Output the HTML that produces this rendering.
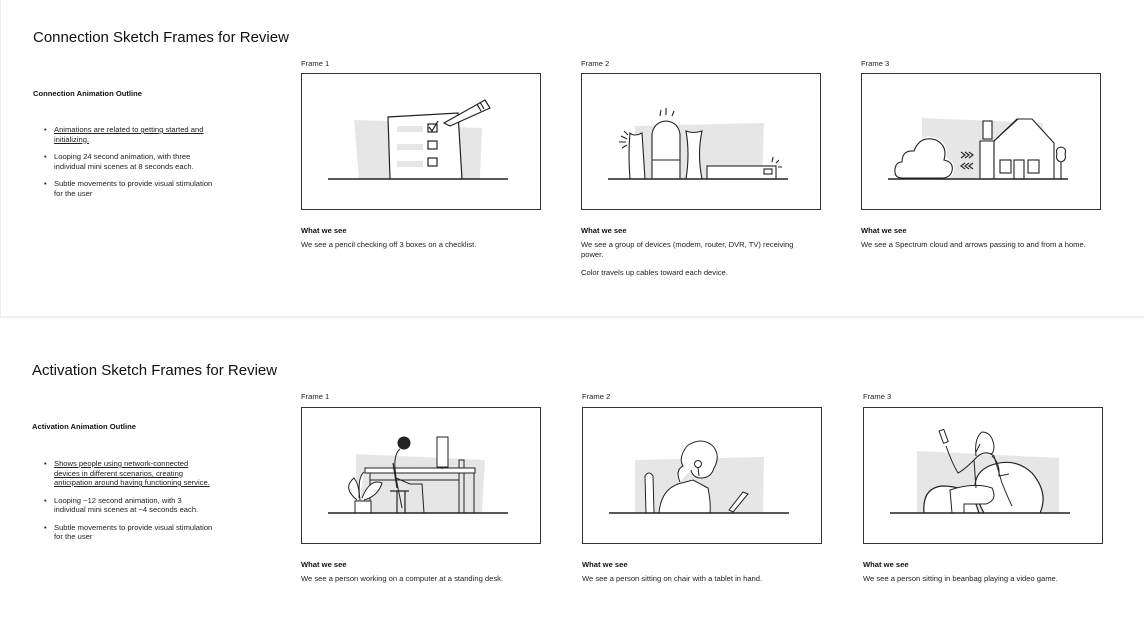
<!DOCTYPE html>
<html><head><meta charset="utf-8"><style>
*{margin:0;padding:0;box-sizing:border-box}
body{width:1144px;height:640px;background:#fff;font-family:"Liberation Sans",sans-serif;color:#111;position:relative;overflow:hidden}
.a{position:absolute;white-space:nowrap}
.t{font-size:15px;color:#111}
.s{font-size:7.6px;line-height:9.5px;color:#222}
.b{font-weight:bold;font-size:7.6px}
ul{position:absolute;left:44px;font-size:7.6px;line-height:9.5px;color:#222;list-style:none}
li{position:relative;padding-left:10px;white-space:nowrap}
li:before{content:"•";position:absolute;left:0}
li u{text-decoration:underline}
.f{position:absolute;width:240px;height:137px;border:1px solid #333;background:#fff}
.f svg{position:absolute;left:0;top:0}
.sep{position:absolute;left:0;top:0;width:1144px;height:318px;border-left:1px solid #eee;border-bottom:2px solid #efefef}
</style></head><body>
<div class="sep"></div>

<div class="a t" style="left:33px;top:29px">Connection Sketch Frames for Review</div>
<div class="a b" style="left:33px;top:89px">Connection Animation Outline</div>
<ul style="top:125px">
<li><u>Animations are related to getting started and<br>initializing.</u></li>
<li style="margin-top:8px">Looping 24 second animation, with three<br>individual mini scenes at 8 seconds each.</li>
<li style="margin-top:8px">Subtle movements to provide visual stimulation<br>for the user</li>
</ul>

<div class="a s" style="left:301px;top:59px">Frame 1</div>
<div class="a s" style="left:581px;top:59px">Frame 2</div>
<div class="a s" style="left:861px;top:59px">Frame 3</div>

<div class="f" style="left:301px;top:73px"><svg width="240" height="137" viewBox="0 0 240 137" fill="none" stroke="#222" stroke-width="1.2">
<polygon points="52,46 87,47 87,105 57,105" fill="#e6e6e6" stroke="none"/>
<polygon points="153,53 180,54 178,105 153,105" fill="#e6e6e6" stroke="none"/>
<path d="M88,105 L86,43 L156,39 L160,105" fill="#fff"/>
<rect x="95" y="52" width="26" height="6" fill="#e6e6e6" stroke="none"/>
<rect x="95" y="70" width="26" height="6" fill="#e6e6e6" stroke="none"/>
<rect x="95" y="87" width="26" height="6" fill="#e6e6e6" stroke="none"/>
<rect x="126" y="50" width="9" height="8"/><rect x="126" y="67" width="9" height="8"/><rect x="126" y="84" width="9" height="8"/>
<path d="M127,53 l3,4 l6,-10"/>
<path d="M142,49 L183,26 L188,34 L148,52 Z M142,49 l6,3" fill="#fff"/>
<path d="M178,28 l4,7 M175,30 l4,7"/>
<line x1="26" y1="105" x2="206" y2="105" stroke-width="1.6"/>
</svg></div>

<div class="f" style="left:581px;top:73px"><svg width="240" height="137" viewBox="0 0 240 137" fill="none" stroke="#222" stroke-width="1.1">
<polygon points="53,52 182,49 180,105 53,105" fill="#e6e6e6" stroke="none"/>
<path d="M48,59 Q52,63 60,59 L63,105 L48,105 Q46,80 48,59 Z" fill="#fff"/>
<path d="M39,62 l6,3 M37,68 l7,0 M40,74 l5,-3 M42,57 l4,4"/>
<path d="M70,105 L70,60 Q72,48 84,47 Q96,48 98,60 L98,105 Z" fill="#fff"/>
<path d="M70,86 L98,86"/>
<path d="M78,42 l1,-6 M84,41 l0,-7 M90,42 l2,-5"/>
<path d="M104,57 Q111,60 120,57 Q115,80 120,105 L104,105 Q108,80 104,57 Z" fill="#fff"/>
<rect x="125" y="92" width="69" height="13" fill="#fff"/>
<rect x="182" y="95" width="8" height="5"/>
<path d="M190,88 l1,-5 M194,89 l3,-3 M196,93 l4,0"/>
<line x1="26" y1="105" x2="206" y2="105" stroke-width="1.6"/>
</svg></div>

<div class="f" style="left:861px;top:73px"><svg width="240" height="137" viewBox="0 0 240 137" fill="none" stroke="#222" stroke-width="1.1">
<polygon points="60,44 181,49 181,105 60,105" fill="#e6e6e6" stroke="none"/>
<path d="M40,104 Q32,104 33,95 Q34,88 40,88 Q40,76 52,77 Q58,61 74,66 Q86,72 82,86 Q92,88 90,97 Q88,104 80,104 Z" fill="#fff" stroke="#fff" stroke-width="4"/>
<path d="M40,104 Q32,104 33,95 Q34,88 40,88 Q40,76 52,77 Q58,61 74,66 Q86,72 82,86 Q92,88 90,97 Q88,104 80,104 Z" fill="#fff"/>
<path d="M99,78 l4,3 l-4,3 M103,78 l4,3 l-4,3 M107,78 l4,3 l-4,3 M111,89 l-4,3 l4,3 M107,89 l-4,3 l4,3 M103,89 l-4,3 l4,3"/>
<path d="M118,105 L118,67 L132,67 L132,105" fill="#fff"/>
<rect x="121" y="47" width="9" height="18" fill="#fff"/>
<path d="M132,67 L155,45 L170,45 L192,69 L192,105 L132,105 Z" fill="#fff"/>
<path d="M132,67 L156,45 M155,45 L170,45"/>
<rect x="138" y="86" width="11" height="13"/><rect x="152" y="86" width="10" height="19"/><rect x="166" y="86" width="11" height="13"/>
<path d="M199,105 L199,88 M199,88 Q193,86 195,80 Q193,74 199,73 Q205,74 203,80 Q205,86 199,88"/>
<line x1="26" y1="105" x2="206" y2="105" stroke-width="1.6"/>
</svg></div>

<div class="a b" style="left:301px;top:226px">What we see</div>
<div class="a s" style="left:301px;top:240px">We see a pencil checking off 3 boxes on a checklist.</div>
<div class="a b" style="left:581px;top:226px">What we see</div>
<div class="a s" style="left:581px;top:240px">We see a group of devices (modem, router, DVR, TV) receiving<br>power.</div>
<div class="a s" style="left:581px;top:268px">Color travels up cables toward each device.</div>
<div class="a b" style="left:861px;top:226px">What we see</div>
<div class="a s" style="left:861px;top:240px">We see a Spectrum cloud and arrows passing to and from a home.</div>

<div class="a t" style="left:32px;top:362px">Activation Sketch Frames for Review</div>
<div class="a b" style="left:32px;top:422px">Activation Animation Outline</div>
<ul style="top:459px">
<li><u>Shows people using network-connected<br>devices in different scenarios, creating<br>anticipation around having functioning service.</u></li>
<li style="margin-top:8px">Looping ~12 second animation, with 3<br>individual mini scenes at ~4 seconds each.</li>
<li style="margin-top:8px">Subtle movements to provide visual stimulation<br>for the user</li>
</ul>

<div class="a s" style="left:301px;top:392px">Frame 1</div>
<div class="a s" style="left:582px;top:392px">Frame 2</div>
<div class="a s" style="left:863px;top:392px">Frame 3</div>

<div class="f" style="left:301px;top:407px"><svg width="240" height="137" viewBox="0 0 240 137" fill="none" stroke="#222" stroke-width="1">
<polygon points="54,46 183,52 180,105 54,105" fill="#e6e6e6" stroke="none"/>
<rect x="63" y="60" width="110" height="5" fill="#fff"/>
<path d="M68,65 L68,105 M157,65 L157,105 M162,65 L162,105 M172,65 L172,105 M68,72 L157,72"/>
<rect x="135" y="29" width="11" height="30" fill="#fff"/><path d="M140,59 L140,61"/>
<rect x="157" y="52" width="5" height="8"/>
<circle cx="102" cy="35" r="6" fill="#222"/>
<path d="M98,41 Q92,46 93,60 L94,70 L108,76 L120,76 L122,105 M94,70 L100,100 M100,60 L120,60"/>
<path d="M91,55 L95,80 M88,83 L107,83 M95,83 L95,105 M103,83 L103,105" stroke-width="1.2"/>
<path d="M55,92 Q40,80 52,70 Q58,78 57,90 M60,90 Q68,70 80,75 Q76,88 62,92 M58,92 Q55,70 62,64" fill="#fff"/>
<rect x="53" y="93" width="16" height="12" fill="#fff"/>
<line x1="26" y1="105" x2="206" y2="105" stroke-width="1.6"/>
</svg></div>

<div class="f" style="left:582px;top:407px"><svg width="240" height="137" viewBox="0 0 240 137" fill="none" stroke="#222" stroke-width="1">
<polygon points="52,52 181,49 180,105 52,105" fill="#e6e6e6" stroke="none"/>
<path d="M63,105 L62,68 Q66,62 70,68 L71,105" fill="#fff"/>
<path d="M76,105 Q78,82 95,76 L110,72 L125,80 Q128,95 127,105 Z" fill="#fff"/>
<path d="M97,74 Q92,62 100,58 Q95,50 104,38 Q118,28 130,38 Q138,48 131,60 Q128,70 118,70 Q110,70 108,62" fill="#fff"/>
<circle cx="115" cy="56" r="3.5" fill="#fff"/><path d="M115,60 L116,68"/>
<path d="M146,102 L160,84 L165,86 L150,104 Z" fill="#fff"/>
<line x1="26" y1="105" x2="206" y2="105" stroke-width="1.6"/>
</svg></div>

<div class="f" style="left:863px;top:407px"><svg width="240" height="137" viewBox="0 0 240 137" fill="none" stroke="#222" stroke-width="1">
<polygon points="53,43 195,50 195,105 53,105" fill="#e6e6e6" stroke="none"/>
<path d="M120,105 Q100,70 125,58 Q150,48 168,65 Q185,85 176,105" fill="#fff" stroke-width="1.2"/>
<path d="M60,105 Q58,80 78,78 Q100,78 110,90 L115,105" fill="#fff" stroke-width="1.2"/>
<path d="M88,105 L86,82 Q110,74 128,80 Q134,92 122,96 L100,96 L100,105" fill="#fff"/>
<path d="M112,80 L110,52 Q120,40 130,48 L138,75 Q144,90 148,98 M128,48 Q136,55 135,68 L145,66"/>
<path d="M110,52 Q100,62 94,65 Q88,55 82,38" />
<rect x="77" y="22" width="5" height="13" transform="rotate(-20 79 28)" fill="#fff"/>
<path d="M112,48 Q110,30 118,24 Q128,24 130,38 Q130,46 126,46 M116,36 L112,44"/>
<line x1="26" y1="105" x2="206" y2="105" stroke-width="1.6"/>
</svg></div>

<div class="a b" style="left:301px;top:560px">What we see</div>
<div class="a s" style="left:301px;top:574px">We see a person working on a computer at a standing desk.</div>
<div class="a b" style="left:582px;top:560px">What we see</div>
<div class="a s" style="left:582px;top:574px">We see a person sitting on chair with a tablet in hand.</div>
<div class="a b" style="left:863px;top:560px">What we see</div>
<div class="a s" style="left:863px;top:574px">We see a person sitting in beanbag playing a video game.</div>
</body></html>
